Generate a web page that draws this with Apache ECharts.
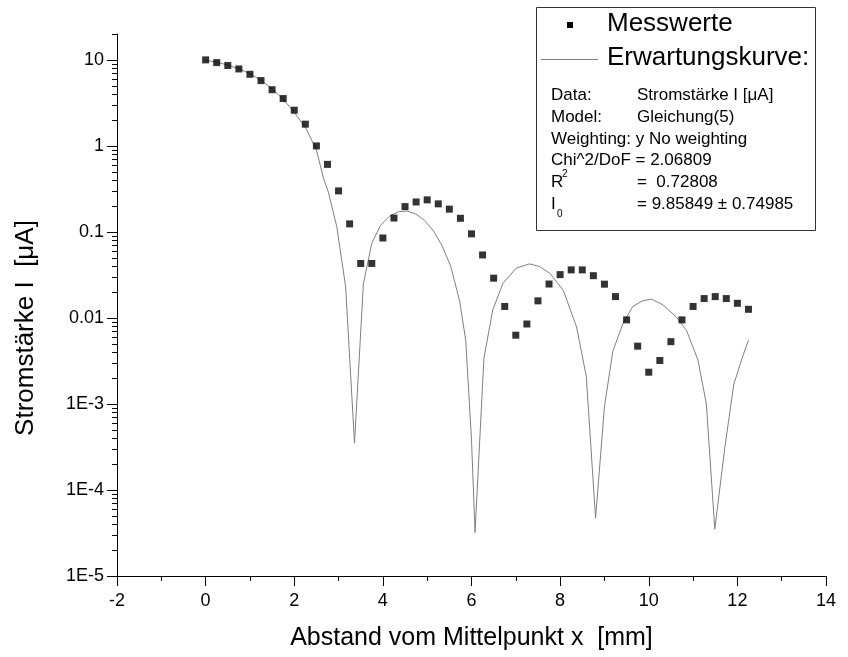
<!DOCTYPE html>
<html>
<head>
<meta charset="utf-8">
<script src="https://cdn.jsdelivr.net/npm/echarts@6/dist/echarts.min.js"></script>
<style>
  html, body { margin: 0; padding: 0; background: #fff; }
  #chart { width: 848px; height: 657px; }
</style>
</head>
<body>
<div id="chart"></div>
<script>
// Messwerte (x in mm, I in µA)
var measX = [0, 0.25, 0.5, 0.75, 1, 1.25, 1.5, 1.75, 2, 2.25, 2.5, 2.75, 3, 3.25, 3.5, 3.75,
  4, 4.25, 4.5, 4.75, 5, 5.25, 5.5, 5.75, 6, 6.25, 6.5, 6.75, 7, 7.25, 7.5, 7.75,
  8, 8.25, 8.5, 8.75, 9, 9.25, 9.5, 9.75, 10, 10.25, 10.5, 10.75, 11, 11.25, 11.5, 11.75,
  12, 12.25];
var measY = [10, 9.3, 8.6, 7.85, 6.8, 5.75, 4.5, 3.55, 2.6, 1.79, 1.0, 0.61, 0.30, 0.124, 0.043, 0.043,
  0.085, 0.145, 0.197, 0.223, 0.236, 0.212, 0.184, 0.144, 0.095, 0.054, 0.029, 0.0136, 0.0063, 0.0085, 0.0158, 0.0248,
  0.0319, 0.0362, 0.0362, 0.031, 0.0247, 0.0177, 0.0095, 0.0047, 0.00234, 0.0032, 0.0053, 0.0095, 0.0136, 0.0168, 0.0177, 0.0168,
  0.0148, 0.0126];

// Erwartungskurve
var fitX = [0, 0.25, 0.5, 0.75, 1, 1.25, 1.5, 1.75, 2, 2.25, 2.5, 2.66, 2.77, 2.96, 3.16, 3.36,
  3.56, 3.75, 3.95, 4.15, 4.35, 4.55, 4.74, 4.94, 5.14, 5.33, 5.53, 5.73, 5.87, 6.0, 6.08,
  6.28, 6.48, 6.71, 7.01, 7.31, 7.54, 7.77, 8.07, 8.37, 8.59, 8.8, 9.0, 9.19, 9.42, 9.64,
  9.87, 10.06, 10.32, 10.62, 10.85, 11.11, 11.3, 11.49, 11.72, 11.92, 12.13, 12.25];
var fitY = [9.86, 9.4, 8.7, 7.9, 6.9, 5.8, 4.6, 3.5, 2.45, 1.65, 0.9, 0.42, 0.29, 0.115, 0.023, 3.5e-4,
  0.025, 0.074, 0.12, 0.152, 0.172, 0.175, 0.162, 0.136, 0.103, 0.07, 0.04, 0.016, 0.0055, 3.8e-4, 3.2e-5,
  0.0034, 0.0124, 0.0253, 0.038, 0.0425, 0.0395, 0.033, 0.021, 0.0079, 0.0021, 4.7e-5, 9.3e-4, 0.0041, 0.0087, 0.0136,
  0.0159, 0.0165, 0.0142, 0.0103, 0.0072, 0.00325, 1.0e-3, 3.5e-5, 3.2e-4, 0.0017, 0.0037, 0.0055];

// Achsen
var xMin = -2, xMax = 14, xStep = 2;
var yMin = 1e-5, yMax = 20;
var yMajorTicks = [1e-5, 1e-4, 1e-3, 0.01, 0.1, 1, 10];
var yTickLabels = ['1E-5', '1E-4', '1E-3', '0.01', '0.1', '1', '10'];
var yMinorFactors = [2, 3, 4, 5, 6, 7, 8, 9];

var fitText = [
  ['Data:', 'Stromstärke I [μA]'],
  ['Model:', 'Gleichung(5)'],
  ['Weighting: y No weighting', ''],
  ['Chi^2/DoF = 2.06809', ''],
  ['R', '=  0.72808'],
  ['I', '= 9.85849 ± 0.74985']
];

var FONT = '"Liberation Sans", Arial, sans-serif';

var measData = measX.map(function (x, i) { return [x, measY[i]]; });
var fitData = fitX.map(function (x, i) { return [x, fitY[i]]; });

// Ticks der log-Achse: [x, Wert, Länge]
var yTickData = [];
yMajorTicks.forEach(function (v) {
  yTickData.push([xMin, v, 10]);
  yMinorFactors.forEach(function (f) {
    if (v * f <= yMax) yTickData.push([xMin, v * f, 5]);
  });
});

var chart = echarts.init(document.getElementById('chart'), null, {renderer: 'canvas'});

var rowY = [95, 117, 139, 160, 182, 204];
var legendChildren = [
  {type: 'rect', shape: {x: 536.5, y: 7.5, width: 279, height: 223},
    style: {fill: '#fff', stroke: '#333', lineWidth: 1}},
  {type: 'rect', shape: {x: 567, y: 22, width: 6, height: 6}, style: {fill: '#000'}},
  {type: 'text', style: {text: 'Messwerte', x: 607, y: 24, font: '26px ' + FONT,
    fill: '#000', verticalAlign: 'middle'}},
  {type: 'line', shape: {x1: 541, y1: 59.5, x2: 598, y2: 59.5},
    style: {stroke: '#808080', lineWidth: 1}},
  {type: 'text', style: {text: 'Erwartungskurve:', x: 607, y: 58, font: '26px ' + FONT,
    fill: '#000', verticalAlign: 'middle'}}
];
fitText.forEach(function (row, i) {
  legendChildren.push({type: 'text', style: {text: row[0], x: 551, y: rowY[i],
    font: '17px ' + FONT, fill: '#000', verticalAlign: 'middle'}});
  if (row[1]) {
    legendChildren.push({type: 'text', style: {text: row[1], x: 637, y: rowY[i],
      font: '17px ' + FONT, fill: '#000', verticalAlign: 'middle'}});
  }
});
legendChildren.push({type: 'text', style: {text: '2', x: 562, y: 174,
  font: '10px ' + FONT, fill: '#000', verticalAlign: 'middle'}});
legendChildren.push({type: 'text', style: {text: '0', x: 557, y: 214,
  font: '10px ' + FONT, fill: '#000', verticalAlign: 'middle'}});

var option = {
  animation: false,
  backgroundColor: '#fff',
  grid: {left: 117, right: 22, top: 34, bottom: 81, containLabel: false, outerBoundsMode: 'none'},
  xAxis: {
    type: 'value',
    min: xMin, max: xMax, interval: xStep,
    name: 'Abstand vom Mittelpunkt x  [mm]',
    nameLocation: 'middle',
    nameGap: 50,
    nameTextStyle: {fontFamily: FONT, fontSize: 25, color: '#000'},
    axisLine: {onZero: false, lineStyle: {color: '#000', width: 1}},
    axisTick: {show: true, inside: false, length: 10, lineStyle: {color: '#000'}},
    minorTick: {show: true, splitNumber: 2, length: 5, lineStyle: {color: '#000'}},
    axisLabel: {fontFamily: FONT, fontSize: 18, color: '#000', margin: 16},
    splitLine: {show: false}
  },
  yAxis: {
    type: 'log',
    logBase: 10,
    min: yMin, max: yMax,
    name: 'Stromstärke I  [μA]',
    nameLocation: 'middle',
    nameGap: 78,
    nameTextStyle: {fontFamily: FONT, fontSize: 26, color: '#000', padding: [0, 46, 0, 0]},
    axisLine: {show: true, onZero: false, lineStyle: {color: '#000', width: 1}},
    axisTick: {show: false},
    axisLabel: {
      fontFamily: FONT, fontSize: 18, color: '#000', margin: 13,
      formatter: function (v) {
        var e = Math.round(Math.log(v) / Math.LN10);
        if (Math.abs(Math.log(v) / Math.LN10 - e) > 1e-6) return '';
        var idx = e + 5;
        return yTickLabels[idx] || '';
      }
    },
    splitLine: {show: false}
  },
  series: [
    {
      name: 'Erwartungskurve',
      type: 'line',
      data: fitData,
      symbol: 'none',
      lineStyle: {color: '#808080', width: 1},
      z: 2
    },
    {
      name: 'Messwerte',
      type: 'scatter',
      data: measData,
      symbol: 'rect',
      symbolSize: 7,
      itemStyle: {color: '#000'},
      z: 3
    },
    {
      name: 'yTicks',
      type: 'custom',
      data: yTickData,
      encode: {x: 0, y: 1},
      clip: false,
      silent: true,
      renderItem: function (params, api) {
        var p = api.coord([api.value(0), api.value(1)]);
        var len = api.value(2);
        var y = Math.round(p[1]) + 0.5;
        return {
          type: 'line',
          shape: {x1: p[0] - len, y1: y, x2: p[0], y2: y},
          style: {stroke: '#000', lineWidth: 1}
        };
      },
      z: 4
    }
  ],
  graphic: [{type: 'group', children: legendChildren, z: 10}]
};

chart.setOption(option);
</script>
</body>
</html>
